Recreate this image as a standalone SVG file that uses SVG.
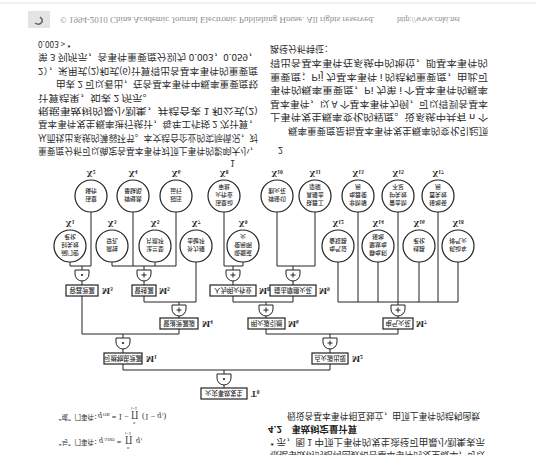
<svg xmlns="http://www.w3.org/2000/svg" width="536" height="455" viewBox="0 0 536 455">
<style>
.bg{fill:#fff}
.ln{stroke:#222;stroke-width:1;fill:none}
.cc{fill:#fff;stroke:#222;stroke-width:1.2}
.bx{fill:#fff;stroke:#222;stroke-width:1.2}
.gt{fill:#fff;stroke:#222;stroke-width:1}
.sy{stroke:#222;stroke-width:1;fill:none}
.dt{fill:#222}
.ct,.ct tspan{font-family:"Noto Sans CJK SC",sans-serif;font-size:5.8px;fill:#1e1e1e;text-anchor:middle;dominant-baseline:central;font-weight:500}
.bt{font-family:"Noto Sans CJK SC",sans-serif;font-size:6.3px;fill:#1e1e1e;text-anchor:middle;dominant-baseline:central;font-weight:500}
.xl{font-family:"Liberation Serif",serif;font-size:8.5px;fill:#222;text-anchor:middle;font-weight:bold}
.ml{font-family:"Liberation Serif",serif;font-size:8.5px;fill:#222;font-weight:bold}
.sb{font-size:5.5px}
.tx{font-family:"Noto Sans CJK SC",sans-serif;font-size:9px;fill:#2a2a2a;dominant-baseline:central}
.hd{font-family:"Noto Sans CJK SC",sans-serif;font-size:9px;fill:#222;font-weight:bold;dominant-baseline:central}
.fm{font-family:"Liberation Serif",serif;font-size:8px;fill:#2a2a2a}
.fc{font-family:"Noto Sans CJK SC",sans-serif;font-size:6.5px;fill:#2a2a2a}
.cp{font-family:"Liberation Serif",serif;font-size:8.5px;fill:#8c8c8c;dominant-baseline:central}
</style>
<rect class="bg" x="0" y="0" width="536" height="455"/>
<g transform="matrix(1 0 0 -1 0 455)">
<!-- page furniture -->
<g id="footer">
<line x1="0" y1="452" x2="536" y2="452" stroke="#e2e2e2" stroke-width="1"/>
<rect x="28" y="427" width="22" height="17" fill="#e4e4e4"/>
<path d="M35,432 q4,-3 7,1 q1,3 -2,5" stroke="#666" stroke-width="1.5" fill="none"/>
<text class="cp" x="60" y="435" textLength="315" lengthAdjust="spacingAndGlyphs">© 1994-2010 China Academic Journal Electronic Publishing House. All rights reserved.</text>
<text class="cp" x="397" y="435" textLength="63" lengthAdjust="spacingAndGlyphs">http://www.cnki.net</text>
</g>
<g id="body-left">
<text class="tx" x="38" y="304" textLength="220" lengthAdjust="spacingAndGlyphs">重要度分析可以确定各基本事件对顶上事件的影响大小，</text>
<text class="tx" x="38" y="317" textLength="220" lengthAdjust="spacingAndGlyphs">从而找出系统的薄弱环节。本文结合企业的实际情况，对</text>
<text class="tx" x="38" y="330.5" textLength="220" lengthAdjust="spacingAndGlyphs">基本事件发生概率进行统计，每年工作按 2 次计算，</text>
<text class="tx" x="38" y="344" textLength="220" lengthAdjust="spacingAndGlyphs">根据事故树的最小割集，并结合表 1 和公式(2)</text>
<text class="tx" x="38" y="357" textLength="115" lengthAdjust="spacingAndGlyphs">计算结果，如表 2 所示。</text>
<text class="tx" x="56" y="370.5" textLength="202" lengthAdjust="spacingAndGlyphs">由表 2 可以看出，在各基本事件中概率重要度较</text>
<text class="tx" x="38" y="384" textLength="220" lengthAdjust="spacingAndGlyphs">2），采用式(2)和式(6)计算得出各基本事件的重要度</text>
<text class="tx" x="38" y="397.5" textLength="220" lengthAdjust="spacingAndGlyphs">第 3 列所示，各事件重要度分别为 0.003，0.059，</text>
<text class="tx" x="38" y="411" textLength="33" lengthAdjust="spacingAndGlyphs">0.003 &gt; *</text>
</g>
<g id="body-right">
<text class="tx" x="278" y="305">2</text>
<text class="tx" x="230" y="292">1</text>
<text class="tx" x="288" y="324" textLength="200" lengthAdjust="spacingAndGlyphs">概率重要度是指基本事件发生概率的变化引起顶</text>
<text class="tx" x="270" y="337.5" textLength="218" lengthAdjust="spacingAndGlyphs">上事件发生概率变化的程度。设系统中共有 n 个</text>
<text class="tx" x="270" y="351" textLength="218" lengthAdjust="spacingAndGlyphs">基本事件，以 A 个基本事件为例，可以得到各基本</text>
<text class="tx" x="270" y="365" textLength="218" lengthAdjust="spacingAndGlyphs">事件的概率重要度，Pi 为第 i 个基本事件的概率</text>
<text class="tx" x="270" y="378" textLength="218" lengthAdjust="spacingAndGlyphs">重要度；Pij 为基本事件 i 的结构重要度，由此可</text>
<text class="tx" x="270" y="392" textLength="218" lengthAdjust="spacingAndGlyphs">得出各基本事件在系统中的地位，即基本事件的</text>
<text class="tx" x="270" y="406" textLength="63" lengthAdjust="spacingAndGlyphs">路径分析特征：</text>
</g>
<g id="body-bottom">
<text class="tx" x="270" y="0" textLength="215" lengthAdjust="spacingAndGlyphs">根据事故树的结构函数和各基本事件的发生概率，可以</text>
<text class="tx" x="270" y="13" textLength="215" lengthAdjust="spacingAndGlyphs">* 示，图 1 中顶上事件的发生途径可由最小割集表示</text>
<text class="hd" x="268" y="25.5" textLength="89" lengthAdjust="spacingAndGlyphs">4.2　事故树定量计算</text>
<text class="tx" x="287" y="39" textLength="193" lengthAdjust="spacingAndGlyphs">假设各基本事件相互独立，由顶上事件的结构函数</text>
<text class="fm"><tspan class="fc" x="55" y="15.5">“与”门事件：</tspan><tspan x="99" y="16" font-style="italic">q</tspan><tspan font-size="5" dx="0.8" y="17.5">AND</tspan><tspan y="16"> =</tspan><tspan x="125" y="17" font-size="9">∏</tspan><tspan x="127" y="8" font-size="4.5">n</tspan><tspan x="125" y="23.5" font-size="4.5">i=1</tspan><tspan x="136" y="16" font-style="italic">q</tspan><tspan font-size="5" dx="0.8" y="17.5">i</tspan></text>
<text class="fm"><tspan class="fc" x="55" y="40.5">“或”门事件：</tspan><tspan x="98" y="41" font-style="italic">q</tspan><tspan font-size="5" dx="0.8" y="42.5">OR</tspan><tspan y="41"> = 1 −</tspan><tspan x="131" y="42" font-size="9">∏</tspan><tspan x="133" y="33" font-size="4.5">n</tspan><tspan x="131" y="48.5" font-size="4.5">i=1</tspan><tspan x="142" y="41">(1 − </tspan><tspan font-style="italic">q</tspan><tspan font-size="5" dx="0.8" y="42.5">i</tspan><tspan y="41">)</tspan></text>
</g>

<!-- connectors -->
<g id="connectors" class="ln">
<path d="M70,193 V189 H91 M91,243 V189 M82,189 V185"/>
<path d="M112,193 V189 H176 M133,243 V189 M155,193 V189 M176,243 V189 M144,189 V185"/>
<path d="M224,243 V189 H243 M243,193 V189 M233,189 V185"/>
<path d="M277,243 V189 H315 M315,243 V189 M293,189 V185"/>
<path d="M82,174 V170 M144,174 V170 M233,174 V170 M293,174 V170"/>
<path d="M144,159 V153 H196 M196,193 V153 M179,153 V150 M179,139 V137"/>
<path d="M233,159 V153 H293 M293,159 V153 M266,153 V150 M266,139 V137"/>
<path d="M338,193 V153 H458 M358,243 V153 M378,193 V153 M398,243 V150 M419,193 V153 M438,243 V153 M458,193 V153 M398,139 V137"/>
<path d="M82,159 V121 H179 M179,126 V121 M123,121 V117 M123,106 V102"/>
<path d="M266,126 V121 H398 M398,126 V121 M330,121 V117 M330,106 V102"/>
<path d="M123,91 V85 H330 M330,91 V85 M224,85 V81 M224,70 V67"/>
</g>

<!-- gates -->
<g id="gate-M3"><path class="gt" d="M75,185 V181 A7,7 0 0 1 89,181 V185 Z"/><circle class="dt" cx="82" cy="180" r="1.1"/></g>
<g id="gate-M5"><path class="gt" d="M137,185 V181 A7,7 0 0 1 151,181 V185 Z"/><path class="sy" d="M141.5,180 h5 M144,177.5 v5"/></g>
<g id="gate-M8"><path class="gt" d="M226,185 V181 A7,7 0 0 1 240,181 V185 Z"/><path class="sy" d="M230.5,180 h5 M233,177.5 v5"/></g>
<g id="gate-M9"><path class="gt" d="M286,185 V181 A7,7 0 0 1 300,181 V185 Z"/><path class="sy" d="M290.5,180 h5 M293,177.5 v5"/></g>
<g id="gate-M4"><path class="gt" d="M172,150 V146 A7,7 0 0 1 186,146 V150 Z"/><path class="sy" d="M176.5,145 h5 M179,142.5 v5"/></g>
<g id="gate-M6"><path class="gt" d="M259,150 V146 A7,7 0 0 1 273,146 V150 Z"/><path class="sy" d="M263.5,145 h5 M266,142.5 v5"/></g>
<g id="gate-M7"><path class="gt" d="M391,150 V146 A7,7 0 0 1 405,146 V150 Z"/><path class="sy" d="M395.5,145 h5 M398,142.5 v5"/></g>
<g id="gate-M1"><path class="gt" d="M116,117 V113 A7,7 0 0 1 130,113 V117 Z"/><circle class="dt" cx="123" cy="112" r="1.1"/></g>
<g id="gate-M2"><path class="gt" d="M323,117 V113 A7,7 0 0 1 337,113 V117 Z"/><path class="sy" d="M327.5,112 h5 M330,109.5 v5"/></g>
<g id="gate-T0"><path class="gt" d="M217,81 V77 A7,7 0 0 1 231,77 V81 Z"/><circle class="dt" cx="224" cy="76" r="1.1"/></g>

<!-- intermediate events -->
<g id="T0"><rect class="bx" x="201" y="56" width="46" height="11"/><text class="bt" x="224" y="61.5">火灾事故发生</text><text class="ml" x="251" y="64">T<tspan class="sb" dy="1.5">0</tspan></text></g>
<g id="M1"><rect class="bx" x="104" y="91" width="38" height="11"/><text class="bt" x="123" y="96.5">可燃物质泄漏</text><text class="ml" x="146" y="99">M<tspan class="sb" dy="1.5">1</tspan></text></g>
<g id="M2"><rect class="bx" x="312" y="91" width="36" height="11"/><text class="bt" x="330" y="96.5">点火源出现</text><text class="ml" x="352" y="99">M<tspan class="sb" dy="1.5">2</tspan></text></g>
<g id="M3"><rect class="bx" x="66" y="159" width="32" height="11"/><text class="bt" x="82" y="164.5">容器泄漏</text><text class="ml" x="102" y="167">M<tspan class="sb" dy="1.5">3</tspan></text></g>
<g id="M4"><rect class="bx" x="160" y="126" width="38" height="11"/><text class="bt" x="179" y="131.5">管道泄漏源</text><text class="ml" x="202" y="134">M<tspan class="sb" dy="1.5">4</tspan></text></g>
<g id="M5"><rect class="bx" x="132" y="159" width="24" height="11"/><text class="bt" x="144" y="164.5">管线漏</text><text class="ml" x="159" y="167">M<tspan class="sb" dy="1.5">5</tspan></text></g>
<g id="M6"><rect class="bx" x="248" y="126" width="37" height="11"/><text class="bt" x="266.5" y="131.5">明火源引燃</text><text class="ml" x="288" y="134">M<tspan class="sb" dy="1.5">6</tspan></text></g>
<g id="M7"><rect class="bx" x="383" y="126" width="30" height="11"/><text class="bt" x="398" y="131.5">电气火花</text><text class="ml" x="416" y="134">M<tspan class="sb" dy="1.5">7</tspan></text></g>
<g id="M8"><rect class="bx" x="210" y="159" width="46" height="11"/><text class="bt" x="233" y="164.5">人为明火作业</text><text class="ml" x="259" y="167">M<tspan class="sb" dy="1.5">8</tspan></text></g>
<g id="M9"><rect class="bx" x="270" y="159" width="46" height="11"/><text class="bt" x="293" y="164.5">撞击摩擦火花</text><text class="ml" x="319" y="167">M<tspan class="sb" dy="1.5">9</tspan></text></g>

<!-- basic events -->
<g id="X1"><circle class="cc" cx="70" cy="209" r="16"/><text class="ct"><tspan x="70" y="200.6">阀门密</tspan><tspan x="70" y="209">封失效</tspan><tspan x="70" y="217.4">老化</tspan></text><text class="xl" x="70" y="234">X<tspan class="sb" dy="1.5">1</tspan></text></g>
<g id="X2"><circle class="cc" cx="91" cy="259" r="16"/><text class="ct"><tspan x="91" y="254.8">违章</tspan><tspan x="91" y="263.2">操作</tspan></text><text class="xl" x="91" y="284">X<tspan class="sb" dy="1.5">2</tspan></text></g>
<g id="X3"><circle class="cc" cx="112" cy="209" r="16"/><text class="ct"><tspan x="112" y="204.8">腐蚀</tspan><tspan x="112" y="213.2">穿孔</tspan></text><text class="xl" x="112" y="234">X<tspan class="sb" dy="1.5">3</tspan></text></g>
<g id="X4"><circle class="cc" cx="133" cy="259" r="16"/><text class="ct"><tspan x="133" y="254.8">焊缝质</tspan><tspan x="133" y="263.2">量缺陷</tspan></text><text class="xl" x="133" y="284">X<tspan class="sb" dy="1.5">4</tspan></text></g>
<g id="X5"><circle class="cc" cx="155" cy="209" r="16"/><text class="ct"><tspan x="155" y="204.8">法兰垫</tspan><tspan x="155" y="213.2">片损坏</tspan></text><text class="xl" x="155" y="234">X<tspan class="sb" dy="1.5">5</tspan></text></g>
<g id="X6"><circle class="cc" cx="176" cy="259" r="16"/><text class="ct"><tspan x="176" y="254.8">超压</tspan><tspan x="176" y="263.2">运行</tspan></text><text class="xl" x="176" y="284">X<tspan class="sb" dy="1.5">6</tspan></text></g>
<g id="X7"><circle class="cc" cx="196" cy="209" r="16"/><text class="ct"><tspan x="196" y="204.8">外力撞</tspan><tspan x="196" y="213.2">击破坏</tspan></text><text class="xl" x="196" y="234">X<tspan class="sb" dy="1.5">7</tspan></text></g>
<g id="X8"><circle class="cc" cx="224" cy="259" r="16"/><text class="ct"><tspan x="224" y="250.6">违章动</tspan><tspan x="224" y="259">火作业</tspan><tspan x="224" y="267.4">审批</tspan></text><text class="xl" x="224" y="284">X<tspan class="sb" dy="1.5">8</tspan></text></g>
<g id="X9"><circle class="cc" cx="243" cy="209" r="16"/><text class="ct"><tspan x="243" y="200.6">吸烟或</tspan><tspan x="243" y="209">使用明</tspan><tspan x="243" y="217.4">火</tspan></text><text class="xl" x="243" y="234">X<tspan class="sb" dy="1.5">9</tspan></text></g>
<g id="X10"><circle class="cc" cx="277" cy="259" r="16"/><text class="ct"><tspan x="277" y="254.8">焊接切</tspan><tspan x="277" y="263.2">割火花</tspan></text><text class="xl" x="277" y="284">X<tspan class="sb" dy="1.5">10</tspan></text></g>
<g id="X11"><circle class="cc" cx="315" cy="259" r="16"/><text class="ct"><tspan x="315" y="250.6">铁器工</tspan><tspan x="315" y="259">具撞击</tspan><tspan x="315" y="267.4">摩擦</tspan></text><text class="xl" x="315" y="284">X<tspan class="sb" dy="1.5">11</tspan></text></g>
<g id="X12"><circle class="cc" cx="338" cy="209" r="16"/><text class="ct"><tspan x="338" y="204.8">电气设</tspan><tspan x="338" y="213.2">备短路</tspan></text><text class="xl" x="338" y="234">X<tspan class="sb" dy="1.5">12</tspan></text></g>
<g id="X13"><circle class="cc" cx="358" cy="259" r="16"/><text class="ct"><tspan x="358" y="250.6">非防爆</tspan><tspan x="358" y="259">电器使</tspan><tspan x="358" y="267.4">用</tspan></text><text class="xl" x="358" y="284">X<tspan class="sb" dy="1.5">13</tspan></text></g>
<g id="X14"><circle class="cc" cx="378" cy="209" r="16"/><text class="ct"><tspan x="378" y="200.6">静电积</tspan><tspan x="378" y="209">聚放电</tspan><tspan x="378" y="217.4">接地</tspan></text><text class="xl" x="378" y="234">X<tspan class="sb" dy="1.5">14</tspan></text></g>
<g id="X15"><circle class="cc" cx="398" cy="259" r="16"/><text class="ct"><tspan x="398" y="250.6">雷击防</tspan><tspan x="398" y="259">护失效</tspan><tspan x="398" y="267.4">不足</tspan></text><text class="xl" x="398" y="284">X<tspan class="sb" dy="1.5">15</tspan></text></g>
<g id="X16"><circle class="cc" cx="419" cy="209" r="16"/><text class="ct"><tspan x="419" y="204.8">线路</tspan><tspan x="419" y="213.2">老化</tspan></text><text class="xl" x="419" y="234">X<tspan class="sb" dy="1.5">16</tspan></text></g>
<g id="X17"><circle class="cc" cx="438" cy="259" r="16"/><text class="ct"><tspan x="438" y="250.6">接地装</tspan><tspan x="438" y="259">置失效</tspan><tspan x="438" y="267.4">用</tspan></text><text class="xl" x="438" y="284">X<tspan class="sb" dy="1.5">17</tspan></text></g>
<g id="X18"><circle class="cc" cx="458" cy="209" r="16"/><text class="ct"><tspan x="458" y="204.8">机动车</tspan><tspan x="458" y="213.2">排气火</tspan></text><text class="xl" x="458" y="234">X<tspan class="sb" dy="1.5">18</tspan></text></g>
</g>
</svg>
